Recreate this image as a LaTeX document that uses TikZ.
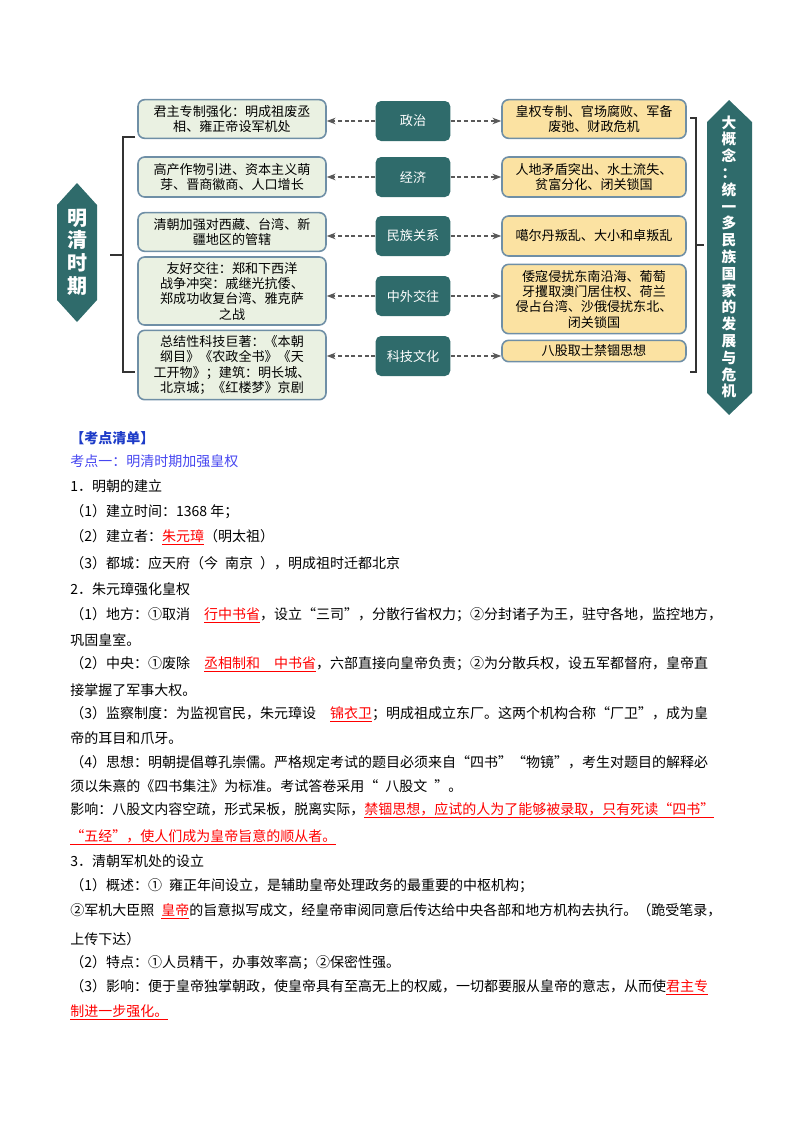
\documentclass[tikz,border=0pt]{standalone}
\usepackage{fontspec}
\setmainfont{Noto Sans CJK SC}
\usetikzlibrary{arrows.meta}
\definecolor{teal1}{HTML}{2F6B6B}
\definecolor{greenbox}{HTML}{EAF1E2}
\definecolor{yellowbox}{HTML}{FBE2A2}
\definecolor{boxline}{HTML}{6F8FA6}
\definecolor{headblue}{HTML}{1E3CC8}
\definecolor{ptblue}{HTML}{4646F0}
\tikzset{>=Stealth}
\tikzset{
  leftbox/.style={draw=boxline,line width=1.2pt,fill=greenbox,rounded corners=5pt,
    minimum width=141pt,align=center,font=\fontsize{9.8}{11.5}\selectfont,inner sep=1pt},
  rightbox/.style={draw=boxline,line width=1.2pt,fill=yellowbox,rounded corners=5pt,
    minimum width=138pt,align=center,font=\fontsize{9.8}{11.5}\selectfont,inner sep=1pt},
  tab/.style={fill=teal1,text=white,rounded corners=4pt,minimum width=56pt,
    minimum height=30pt,font=\fontsize{9.8}{11}\selectfont},
  dasharrow/.style={->,densely dashed,thick,gray!70!black},
  brace/.style={line width=1pt,black!80},
  txt/.style={anchor=west,inner sep=0pt,font=\fontsize{10.5}{12}\selectfont}
}
\newsavebox{\hlbox}
\newcommand*{\hl}[1]{\textcolor{red}{\sbox{\hlbox}{#1}\rlap{\rule[-2pt]{\wd\hlbox}{0.5pt}}\usebox{\hlbox}}}
\begin{document}
\begin{tikzpicture}[x=0.75pt,y=-0.75pt]
\useasboundingbox (0,0) rectangle (800,1132);

% Hexagons
\fill[teal1] (77,183) -- (97,205) -- (97,300) -- (77,322) -- (57,300) -- (57,205) -- cycle;
\node[text=white,align=center,font=\fontsize{15}{17}\selectfont\bfseries] (era) at (77,252)
  {明\\清\\时\\期};
\fill[teal1] (729,100) -- (752,122) -- (752,393) -- (729,415) -- (707,393) -- (707,122) -- cycle;
\node[text=white,align=center,font=\fontsize{11}{12.6}\selectfont\bfseries] (idea) at (729,257)
  {大\\概\\念\\：\\统\\一\\多\\民\\族\\国\\家\\的\\发\\展\\与\\危\\机};

% Brackets
\draw[brace] (135,137) -- (123,137) -- (123,372) -- (135,372);
\draw[brace] (110,255) -- (123,255);
\draw[brace] (690,118) -- (696,118) -- (696,372) -- (690,372);
\draw[brace] (696,245) -- (704,245);

% Left column
\node[leftbox,minimum height=29pt] (l1) at (232,119) {君主专制强化：明成祖废丞\\相、雍正帝设军机处};
\node[leftbox,minimum height=30pt] (l2) at (232,177) {高产作物引进、资本主义萌\\芽、晋商徽商、人口增长};
\node[leftbox,minimum height=29pt] (l3) at (232,232) {清朝加强对西藏、台湾、新\\疆地区的管辖};
\node[leftbox,minimum height=51pt] (l4) at (232,291) {友好交往：郑和下西洋\\战争冲突：戚继光抗倭、\\郑成功收复台湾、雅克萨\\之战};
\node[leftbox,minimum height=52pt] (l5) at (232,365) {总结性科技巨著：《本朝\\纲目》《农政全书》《天\\工开物》；建筑：明长城、\\北京城；《红楼梦》京剧};

% Middle tabs
\node[tab] (t1) at (413,121) {政治};
\node[tab] (t2) at (413,177) {经济};
\node[tab] (t3) at (413,236) {民族关系};
\node[tab] (t4) at (413,296) {中外交往};
\node[tab] (t5) at (413,356) {科技文化};

% Right column
\node[rightbox,minimum height=29pt] (r1) at (594,119) {皇权专制、官场腐败、军备\\废弛、财政危机};
\node[rightbox,minimum height=30pt] (r2) at (594,177) {人地矛盾突出、水土流失、\\贫富分化、闭关锁国};
\node[rightbox,minimum height=30pt] (r3) at (594,236) {噶尔丹叛乱、大小和卓叛乱};
\node[rightbox,minimum height=52pt] (r4) at (594,299) {倭寇侵扰东南沿海、葡萄\\牙攫取澳门居住权、荷兰\\侵占台湾、沙俄侵扰东北、\\闭关锁国};
\node[rightbox,minimum height=16pt] (r5) at (594,351) {八股取士禁锢思想};

\foreach \i in {1,...,5} {
  \draw[dasharrow] (t\i.west) -- (t\i.west -| l\i.east);
  \draw[dasharrow] (t\i.east) -- (t\i.east -| r\i.west);
}

% Study notes
\node[txt,text=headblue,font=\fontsize{10.5}{12}\selectfont\bfseries] (h0) at (70,438) {【考点清单】};
\node[txt,text=ptblue] (h1) at (70,461) {考点一：明清时期加强皇权};
\node[txt] (s1) at (70,486) {1．明朝的建立};
\node[txt] (s2) at (70,512) {（1）建立时间：1368 年；};
\node[txt] (s3) at (70,537) {（2）建立者：\hl{朱元璋}（明太祖）};
\node[txt] (s4) at (70,563) {（3）都城：应天府（今\enspace 南京\enspace ），明成祖时迁都北京};
\node[txt] (s5) at (70,589) {2．朱元璋强化皇权};
\node[txt] (s6) at (70,615) {（1）地方：①取消\quad\hl{行中书省}，设立“三司”，分散行省权力；②分封诸子为王，驻守各地，监控地方，};
\node[txt] (s7) at (70,640) {巩固皇室。};
\node[txt] (s8) at (70,664) {（2）中央：①废除\quad\hl{丞相制和\quad 中书省}，六部直接向皇帝负责；②为分散兵权，设五军都督府，皇帝直};
\node[txt] (s9) at (70,690) {接掌握了军事大权。};
\node[txt] (s10) at (70,714) {（3）监察制度：为监视官民，朱元璋设\quad\hl{锦衣卫}；明成祖成立东厂。这两个机构合称“厂卫”，成为皇};
\node[txt] (s11) at (70,738) {帝的耳目和爪牙。};
\node[txt] (s12) at (70,762) {（4）思想：明朝提倡尊孔崇儒。严格规定考试的题目必须来自“四书”“物镜”，考生对题目的解释必};
\node[txt] (s13) at (70,786) {须以朱熹的《四书集注》为标准。考试答卷采用“\enspace 八股文\enspace ”。};
\node[txt] (s14) at (70,810) {影响：八股文内容空疏，形式呆板，脱离实际，\hl{禁锢思想，应试的人为了能够被录取，只有死读“四书”}};
\node[txt] (s15) at (70,837) {\hl{“五经”，使人们成为皇帝旨意的顺从者。}};
\node[txt] (s16) at (70,861) {3．清朝军机处的设立};
\node[txt] (s17) at (70,886) {（1）概述：①\enspace 雍正年间设立，是辅助皇帝处理政务的最重要的中枢机构；};
\node[txt] (s18) at (70,911) {②军机大臣照\enspace\hl{皇帝}的旨意拟写成文，经皇帝审阅同意后传达给中央各部和地方机构去执行。（跪受笔录，};
\node[txt] (s19) at (70,939) {上传下达）};
\node[txt] (s20) at (70,963) {（2）特点：①人员精干，办事效率高；②保密性强。};
\node[txt] (s21) at (70,987) {（3）影响：便于皇帝独掌朝政，使皇帝具有至高无上的权威，一切都要服从皇帝的意志，从而使\hl{君主专}};
\node[txt] (s22) at (70,1012) {\hl{制进一步强化。}};

\end{tikzpicture}
\end{document}
